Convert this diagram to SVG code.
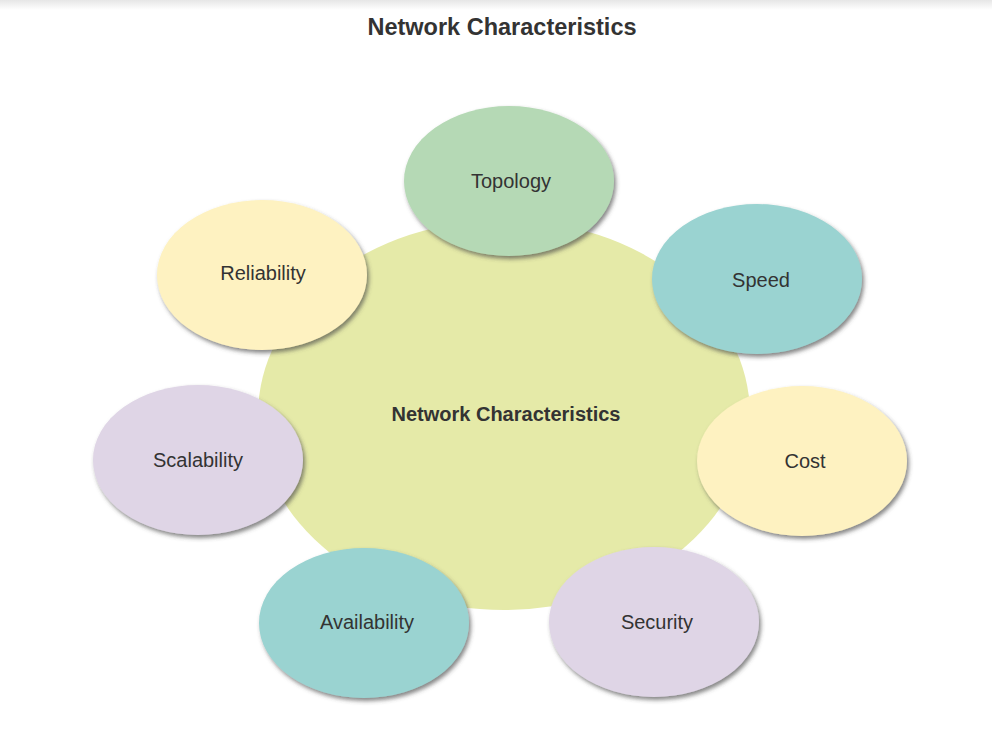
<svg xmlns="http://www.w3.org/2000/svg" width="992" height="755" viewBox="0 0 992 755">
<defs>
<linearGradient id="topbar" x1="0" y1="0" x2="0" y2="1">
<stop offset="0" stop-color="#e6e6e6"/>
<stop offset="1" stop-color="#ffffff"/>
</linearGradient>
<filter id="sh" x="-20%" y="-20%" width="150%" height="150%">
<feDropShadow dx="2" dy="3" stdDeviation="2" flood-color="#444" flood-opacity="0.65"/>
</filter>
<style>
.lbl{font-family:"Liberation Sans",Arial,sans-serif;font-size:20px;fill:#333;text-anchor:middle;dominant-baseline:central}
.outer{filter:url(#sh)}
.green{fill:#b5d9b5}
.teal{fill:#9ad3d1}
.yellow{fill:#fef2c1}
.lilac{fill:#dfd5e6}
</style>
</defs>
<rect width="992" height="755" fill="#ffffff"/>
<rect width="992" height="10" fill="url(#topbar)"/>
<text x="502" y="27" class="lbl" style="font-size:23.5px;font-weight:bold">Network Characteristics</text>
<g id="connectors"></g>
<g id="center">
<ellipse cx="504" cy="415" rx="246" ry="195" fill="#e5eaa8"/>
<text x="506" y="414" class="lbl" style="font-weight:bold">Network Characteristics</text>
</g>
<g id="topology">
<ellipse class="outer green" cx="509" cy="181" rx="105" ry="75"/>
<text x="511" y="181" class="lbl">Topology</text>
</g>
<g id="speed">
<ellipse class="outer teal" cx="757" cy="279" rx="105" ry="75"/>
<text x="761" y="280" class="lbl">Speed</text>
</g>
<g id="cost">
<ellipse class="outer yellow" cx="802" cy="461" rx="105" ry="75"/>
<text x="805" y="461" class="lbl">Cost</text>
</g>
<g id="security">
<ellipse class="outer lilac" cx="654" cy="622" rx="105" ry="75"/>
<text x="657" y="622" class="lbl">Security</text>
</g>
<g id="availability">
<ellipse class="outer teal" cx="364" cy="623" rx="105" ry="75"/>
<text x="367" y="622" class="lbl">Availability</text>
</g>
<g id="scalability">
<ellipse class="outer lilac" cx="198" cy="460" rx="105" ry="75"/>
<text x="198" y="460" class="lbl">Scalability</text>
</g>
<g id="reliability">
<ellipse class="outer yellow" cx="262" cy="275" rx="105" ry="75"/>
<text x="263" y="273" class="lbl">Reliability</text>
</g>
</svg>
